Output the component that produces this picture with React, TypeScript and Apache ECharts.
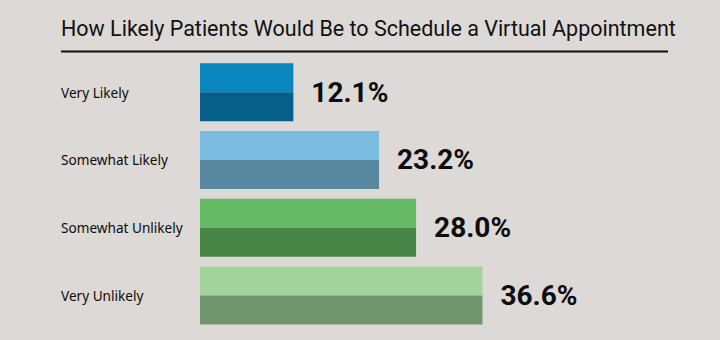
import React, { useEffect, useRef } from "react";
import * as echarts from "echarts";

const categories = ["Very Likely", "Somewhat Likely", "Somewhat Unlikely", "Very Unlikely"];
const values = [12.1, 23.2, 28.0, 36.6];
const topColors = ["#0986bd", "#7bbde0", "#66ba65", "#a2d39b"];
const bottomColors = ["#055f88", "#58889f", "#488647", "#70956f"];
const titleText = "How Likely Patients Would Be to Schedule a Virtual Appointment";

export default function App() {
  const ref = useRef<HTMLDivElement>(null);
  useEffect(() => {
    if (!ref.current) return;
    const chart = echarts.init(ref.current, undefined, { renderer: "svg" });
    const half = 29;
    chart.setOption({
      animation: false,
      backgroundColor: "#dcd9d6",
      title: {
        text: titleText,
        left: 56,
        top: 12,
        textStyle: { fontFamily: "Roboto", fontSize: 21.5, fontWeight: "normal", color: "#111111" },
      },
      graphic: [
        {
          type: "line",
          shape: { x1: 61, y1: 51.5, x2: 668, y2: 51.5 },
          style: { stroke: "#111111", lineWidth: 2 },
        },
      ],
      grid: { left: 200, right: 57, top: 58.4, bottom: 10.7 },
      xAxis: {
        type: "value",
        min: 0,
        max: 60,
        show: false,
      },
      yAxis: {
        type: "category",
        data: categories,
        inverse: true,
        axisLine: { show: false },
        axisTick: { show: false },
        splitLine: { show: false },
        axisLabel: {
          align: "left",
          margin: 139,
          fontFamily: "Noto Sans",
          fontSize: 13.6,
          color: "#0d0d0d",
        },
      },
      series: [
        {
          type: "bar",
          name: "top",
          barWidth: half,
          barGap: "0%",
          data: values.map((v, i) => ({ value: v, itemStyle: { color: topColors[i] } })),
          label: {
            show: true,
            position: "right",
            distance: 18,
            offset: [0, half / 2],
            formatter: (p: any) => p.value.toFixed(1) + "%",
            fontFamily: "Roboto",
            fontWeight: "bold",
            fontSize: 28,
            color: "#0d0d0d",
          },
        },
        {
          type: "bar",
          name: "bottom",
          barWidth: half,
          barGap: "0%",
          data: values.map((v, i) => ({ value: v, itemStyle: { color: bottomColors[i] } })),
        },
      ],
    });
    return () => chart.dispose();
  }, []);
  return (
    <div
      ref={ref}
      style={{ position: "fixed", left: 0, top: 0, width: 720, height: 340 }}
    />
  );
}
